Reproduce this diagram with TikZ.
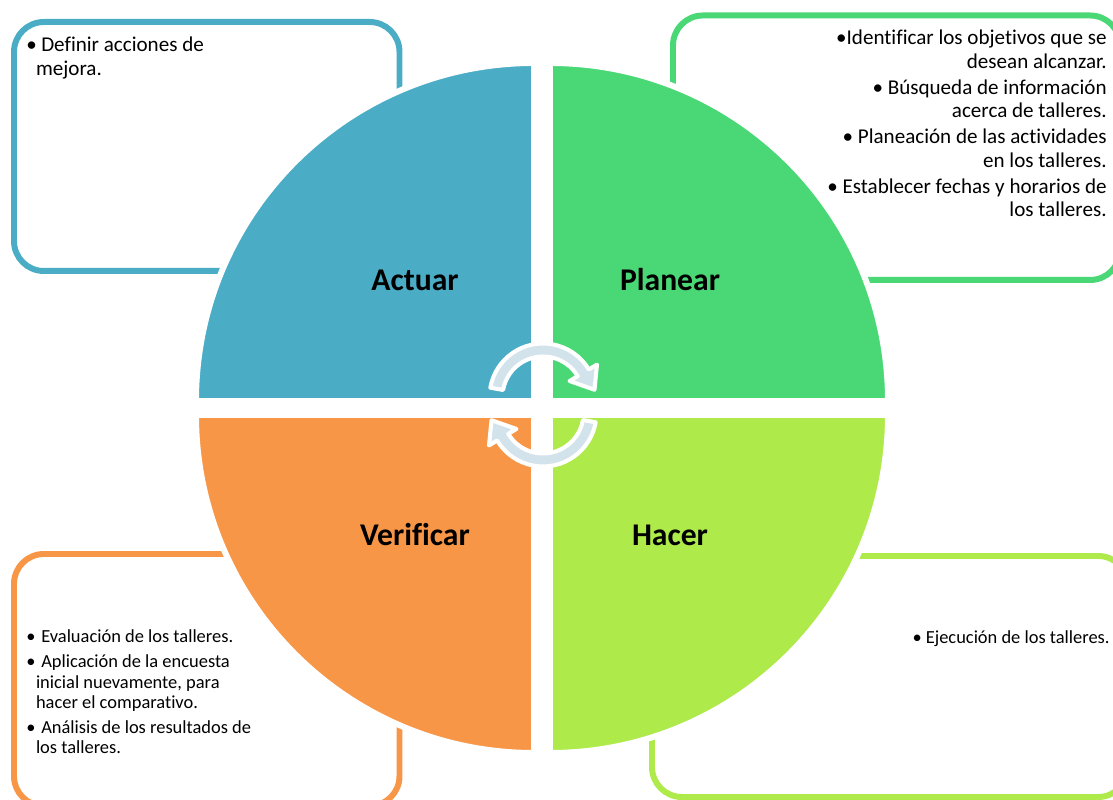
\documentclass[tikz,border=0pt]{standalone}
\usepackage{fontspec}
\setmainfont[Ligatures=NoCommon]{Carlito}
\definecolor{actuarblue}{HTML}{4BACC6}
\definecolor{planeargreen}{HTML}{4AD876}
\definecolor{verifOrange}{HTML}{F79646}
\definecolor{hacerlime}{HTML}{AEEA4A}
\definecolor{cycgray}{HTML}{D3E3EB}
\newcommand{\bul}{\makebox[8.5pt][l]{\textbullet}}
\newcommand{\cont}{\hspace*{5.5pt}}

\begin{document}
\begin{tikzpicture}[x=0.02cm, y=0.02cm,
  frame/.style={line width=3.4pt, rounded corners=17pt},
  quad/.style={draw=white, line width=3.4pt},
  lbl/.style={font=\fontsize{18}{20}\selectfont\bfseries},
  txt/.style={inner sep=0pt, font=\fontsize{12}{13.3}\selectfont},
  smalltxt/.style={inner sep=0pt, font=\fontsize{10.5}{11.6}\selectfont},
  cyc/.style={fill=cycgray, draw=white, line width=2.3pt, line join=round}]
  \useasboundingbox (0,0) rectangle (1113,800);
  \clip (0,0) rectangle (1113,800);

  \draw[frame, actuarblue] (14,529) rectangle (399.5,778);
  \draw[frame, planeargreen] (673,520) rectangle (1120,784.5);
  \draw[frame, verifOrange] (14,-6) rectangle (399.5,246);
  \draw[frame, hacerlime] (652,3) rectangle (1128,244);

  \filldraw[quad, fill=actuarblue] (534,399) -- ++(0,338) arc[start angle=90, end angle=180, radius=338] -- cycle;
  \filldraw[quad, fill=planeargreen] (550,399) -- ++(338,0) arc[start angle=0, end angle=90, radius=338] -- cycle;
  \filldraw[quad, fill=verifOrange] (534,385) -- ++(-338,0) arc[start angle=180, end angle=270, radius=338] -- cycle;
  \filldraw[quad, fill=hacerlime] (550,385) -- ++(0,-338) arc[start angle=270, end angle=360, radius=338] -- cycle;

  \begin{scope}[shift={(543,403)}]
    \filldraw[cyc] (170:53.5) arc[start angle=170, end angle=31, radius=53.5] -- (31:63) -- (8:52) -- (31:31) -- (31:40.5) arc[start angle=31, end angle=170, radius=40.5] -- cycle;
  \end{scope}
  \begin{scope}[shift={(543,387)}]
    \filldraw[cyc] (-10:53.5) arc[start angle=-10, end angle=-149, radius=53.5] -- (-149:63) -- (-172:52) -- (-149:31) -- (-149:40.5) arc[start angle=-149, end angle=-10, radius=40.5] -- cycle;
  \end{scope}

  \node[lbl] (actuar) at (415,520) {Actuar};
  \node[lbl] (planear) at (670,520) {Planear};
  \node[lbl] (verificar) at (415,265) {Verificar};
  \node[lbl] (hacer) at (670,265) {Hacer};

  \node[txt, anchor=base west] (mejora) at (26,748) {\begin{tabular}[t]{@{}l@{}}\bul Definir acciones de\\ \cont mejora.\end{tabular}};
  \node[txt, anchor=base east] (planes) at (1107,755) {\begin{tabular}[t]{@{}r@{}}\textbullet Identificar los objetivos que se\\ desean alcanzar.\\[1.5pt] \textbullet\ Búsqueda de información\\ acerca de talleres.\\[1.5pt] \textbullet\ Planeación de las actividades\\ en los talleres.\\[1.5pt] \textbullet\ Establecer fechas y horarios de\\ los talleres.\end{tabular}};
  \node[smalltxt, anchor=base west] (evaluar) at (26,157) {\begin{tabular}[t]{@{}l@{}}\bul Evaluación de los talleres.\\[2.5pt] \bul Aplicación de la encuesta\\ \cont inicial nuevamente, para\\ \cont hacer el comparativo.\\[2.5pt] \bul Análisis de los resultados de\\ \cont los talleres.\end{tabular}};
  \node[smalltxt, anchor=base east] (ejecutar) at (1110,156) {\textbullet\ Ejecución de los talleres.};
\end{tikzpicture}
\end{document}
